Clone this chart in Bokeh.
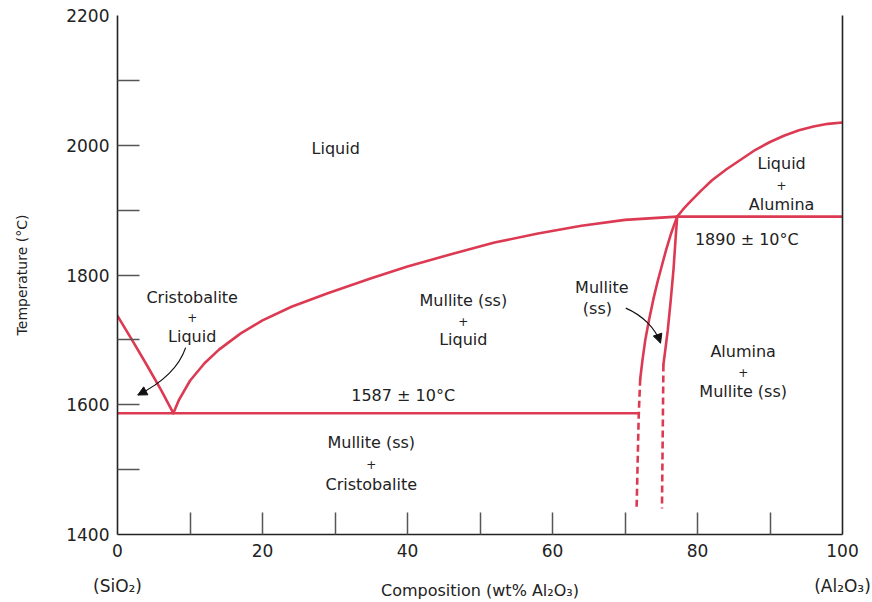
from bokeh.plotting import figure
from bokeh.models import FixedTicker, LinearAxis, ColumnDataSource, Arrow, NormalHead
from bokeh.core.properties import value
from bokeh.embed import file_html
from bokeh.resources import INLINE

# --- phase boundaries of the SiO2-Al2O3 system (composition wt% Al2O3, temperature degC) ---
cristobalite_liquidus_x = [0, 2, 4, 6, 7.7]
cristobalite_liquidus_t = [1737, 1700, 1662, 1623, 1587]

mullite_liquidus_x = [7.7, 8.5, 10, 12, 14, 17, 20, 24, 29, 35, 40, 46, 52, 58, 64, 70, 77.2]
mullite_liquidus_t = [1587, 1608, 1637, 1664, 1685, 1710, 1730, 1751, 1772, 1795, 1813, 1832, 1850, 1864, 1876, 1885, 1890]

alumina_liquidus_x = [77.2, 78, 79, 80.5, 82, 84, 86, 88, 90, 92, 94, 96, 98, 100]
alumina_liquidus_t = [1890, 1901, 1913, 1930, 1946, 1963, 1978, 1993, 2005, 2015, 2023, 2029, 2033, 2035]

eutectic_x = [0, 71.9]
eutectic_t = [1587, 1587]

peritectic_x = [77.2, 100]
peritectic_t = [1890, 1890]

mullite_left_x = [77.2, 76.8, 76.3, 75.7, 75.1, 74.5, 73.9, 73.3, 72.8, 72.4, 72.1]
mullite_left_t = [1890, 1878, 1862, 1840, 1815, 1790, 1762, 1730, 1700, 1668, 1640]
mullite_left_dash_x = [72.1, 71.9, 71.6]
mullite_left_dash_t = [1640, 1587, 1440]

mullite_right_x = [77.2, 77.0, 76.7, 76.3, 75.9, 75.6, 75.3]
mullite_right_t = [1890, 1860, 1810, 1760, 1715, 1688, 1662]
mullite_right_dash_x = [75.3, 75.1]
mullite_right_dash_t = [1662, 1440]

# --- region and temperature annotations ---
label_text = ["Liquid",
              "Cristobalite", "+", "Liquid",
              "Mullite (ss)", "+", "Liquid",
              "1587 \u00b1 10\u00b0C",
              "Mullite (ss)", "+", "Cristobalite",
              "Mullite", "(ss)",
              "Liquid", "+", "Alumina",
              "1890 \u00b1 10\u00b0C",
              "Alumina", "+", "Mullite (ss)"]
label_x = [30.1,
           10.3, 10.3, 10.3,
           47.7, 47.7, 47.7,
           39.4,
           35.0, 35.0, 35.0,
           66.8, 66.2,
           91.6, 91.6, 91.6,
           86.8,
           86.3, 86.3, 86.3]
label_t = [1995,
           1765, 1734, 1705,
           1760, 1728, 1700,
           1614,
           1542, 1508, 1477,
           1780, 1748,
           1972, 1938, 1909,
           1855,
           1682, 1649, 1620]
label_size = ["16px",
              "16px", "12px", "16px",
              "16px", "12px", "16px",
              "16px",
              "16px", "12px", "16px",
              "16px", "16px",
              "16px", "12px", "16px",
              "16px",
              "16px", "12px", "16px"]

# curved pointer arrows: start, two control points, end
arrow_x0 = [9.4, 70.1]
arrow_t0 = [1688, 1749]
arrow_cx0 = [8.4, 72.4]
arrow_ct0 = [1655, 1738]
arrow_cx1 = [5.7, 74.2]
arrow_ct1 = [1631, 1718]
arrow_x1 = [2.8, 74.9]
arrow_t1 = [1615, 1695]
head_from_x = [4.0, 74.5]
head_from_t = [1622, 1708]

x_major = [0, 20, 40, 60, 80, 100]
x_minor = [10, 20, 30, 40, 50, 60, 70, 80, 90]
x_labels = {0: "0\n(SiO\u2082)", 100: "100\n(Al\u2082O\u2083)"}
y_major = [1400, 1600, 1800, 2000, 2200]
y_minor = [1500, 1600, 1700, 1800, 1900, 2000, 2100]

FONT = "DejaVu Sans"
RED = "#dc3a52"
INK = "#222222"

p = figure(width=872, height=602, x_range=(0, 100), y_range=(1400, 2200),
           output_backend="svg", toolbar_location=None,
           min_border_left=117, min_border_right=30,
           min_border_top=15, min_border_bottom=67)
p.grid.visible = False
p.outline_line_color = None
p.background_fill_color = "white"
p.border_fill_color = "white"

# bottom axis, end members named under the 0 and 100 ticks
xa = p.xaxis[0]
xa.ticker = FixedTicker(ticks=x_major, minor_ticks=x_minor)
xa.major_label_overrides = x_labels
xa.major_tick_in = 0
xa.major_tick_out = 0
xa.minor_tick_in = 22
xa.minor_tick_out = 0
xa.minor_tick_line_color = "#555555"
xa.minor_tick_line_width = 1.5
xa.axis_line_color = INK
xa.axis_line_width = 1.6
xa.major_label_text_font = FONT
xa.major_label_text_font_size = "17px"
xa.major_label_text_line_height = 1.75
xa.major_label_text_color = INK
xa.major_label_standoff = 6
xa.axis_label = "Composition (wt% Al\u2082O\u2083)"
xa.axis_label_text_font = FONT
xa.axis_label_text_font_size = "16px"
xa.axis_label_text_font_style = "normal"
xa.axis_label_text_color = INK
xa.axis_label_standoff = -18

# left axis
ya = p.yaxis[0]
ya.ticker = FixedTicker(ticks=y_major, minor_ticks=y_minor)
ya.major_tick_in = 0
ya.major_tick_out = 0
ya.minor_tick_in = 22
ya.minor_tick_out = 0
ya.minor_tick_line_color = "#555555"
ya.minor_tick_line_width = 1.5
ya.axis_line_color = INK
ya.axis_line_width = 1.6
ya.major_label_text_font = FONT
ya.major_label_text_font_size = "17px"
ya.major_label_text_color = INK
ya.major_label_standoff = 8
ya.axis_label = "Temperature (\u00b0C)"
ya.axis_label_text_font = FONT
ya.axis_label_text_font_size = "14px"
ya.axis_label_text_font_style = "normal"
ya.axis_label_text_color = INK
ya.axis_label_standoff = 33

# plain right-hand frame line
ra = LinearAxis(ticker=FixedTicker(ticks=[]), axis_line_color=INK, axis_line_width=1.6,
                major_tick_in=0, major_tick_out=0, minor_tick_in=0, minor_tick_out=0,
                major_label_text_font_size="0px")
p.add_layout(ra, "right")

# phase boundaries
solid_curves = [
    (cristobalite_liquidus_x, cristobalite_liquidus_t),
    (mullite_liquidus_x, mullite_liquidus_t),
    (alumina_liquidus_x, alumina_liquidus_t),
    (eutectic_x, eutectic_t),
    (peritectic_x, peritectic_t),
    (mullite_left_x, mullite_left_t),
    (mullite_right_x, mullite_right_t),
]
for xs, ts in solid_curves:
    p.line(xs, ts, line_color=RED, line_width=2.6, line_join="round", line_cap="round")

for xs, ts in [(mullite_left_dash_x, mullite_left_dash_t), (mullite_right_dash_x, mullite_right_dash_t)]:
    p.line(xs, ts, line_color=RED, line_width=2.6, line_dash="7 4")

# pointer arrows
p.bezier(x0=arrow_x0, y0=arrow_t0, x1=arrow_x1, y1=arrow_t1,
         cx0=arrow_cx0, cy0=arrow_ct0, cx1=arrow_cx1, cy1=arrow_ct1,
         line_color="#111111", line_width=1.2)
for i in range(len(arrow_x1)):
    p.add_layout(Arrow(end=NormalHead(size=9, fill_color="#111111", line_color="#111111", line_width=1),
                       x_start=head_from_x[i], y_start=head_from_t[i],
                       x_end=arrow_x1[i], y_end=arrow_t1[i],
                       line_color="#111111", line_width=1.2))

# region labels
src = ColumnDataSource(dict(x=label_x, y=label_t, text=label_text, size=label_size))
p.text(x="x", y="y", text="text", source=src, text_font=value(FONT),
       text_font_size="size", text_align="center", text_baseline="middle",
       text_color=INK)

open("out.html", "w").write(file_html(p, INLINE))
